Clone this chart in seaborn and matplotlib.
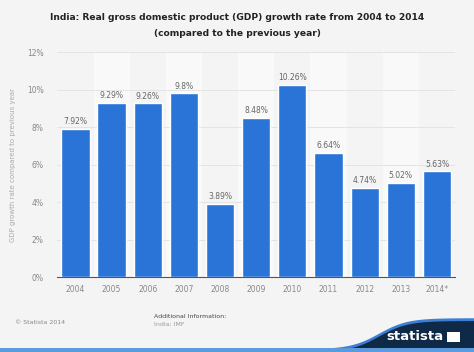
import numpy as np
import pandas as pd
import matplotlib.pyplot as plt
import seaborn as sns

years = ["2004", "2005", "2006", "2007", "2008", "2009", "2010", "2011", "2012", "2013", "2014*"]
growth = [7.92, 9.29, 9.26, 9.8, 3.89, 8.48, 10.26, 6.64, 4.74, 5.02, 5.63]
labels = ["7.92%", "9.29%", "9.26%", "9.8%", "3.89%", "8.48%", "10.26%", "6.64%", "4.74%", "5.02%", "5.63%"]
y_ticks = [0, 2, 4, 6, 8, 10, 12]

df = pd.DataFrame({"year": years, "growth": growth})

bg = "#f4f4f4"
sns.set_style("white")
plt.rcParams['font.family'] = ['DejaVu Sans']

fig = plt.figure(figsize=(4.74, 3.52), dpi=100, facecolor=bg)
ax = fig.add_axes([0.121, 0.213, 0.839, 0.639])
ax.set_facecolor(bg)

# alternating column bands
for i in range(len(years)):
    if i % 2 == 1:
        ax.axvspan(i - 0.5, i + 0.5, color="#f9f9f9", zorder=0, lw=0)

sns.barplot(data=df, x="year", y="growth", color="#2a74d8", saturation=1,
            width=0.78, ax=ax, zorder=3)

for i, (v, t) in enumerate(zip(growth, labels)):
    ax.text(i, v + 0.15, t, ha="center", va="bottom", fontsize=5.5, color="#666666", zorder=4)

ax.set_ylim(0, 12)
ax.set_xlim(-0.5, len(years) - 0.5)
ax.set_yticks(y_ticks)
ax.set_yticklabels([f"{t}%" for t in y_ticks], fontsize=5.5, color="#888888")
ax.tick_params(axis="x", labelsize=5.5, labelcolor="#888888", length=0, pad=6)
ax.tick_params(axis="y", length=0, pad=10)
ax.yaxis.grid(True, color="#e4e4e4", lw=0.7, zorder=1)
ax.set_axisbelow(True)
for s in ["top", "right", "left"]:
    ax.spines[s].set_visible(False)
ax.spines["bottom"].set_color("#555555")
ax.spines["bottom"].set_linewidth(0.8)
ax.set_xlabel("")
ax.set_ylabel("GDP growth rate compared to previous year", fontsize=5, color="#aaaaaa", labelpad=8)

fig.text(0.5, 0.949, "India: Real gross domestic product (GDP) growth rate from 2004 to 2014",
         ha="center", va="center", fontsize=6.6, fontweight="bold", color="#222222")
fig.text(0.5, 0.906, "(compared to the previous year)",
         ha="center", va="center", fontsize=6.6, fontweight="bold", color="#222222")

fig.text(0.032, 0.085, "© Statista 2014", fontsize=4.5, color="#888888", va="center")
fig.text(0.325, 0.102, "Additional Information:", fontsize=4.5, color="#444444", va="center")
fig.text(0.325, 0.080, "India; IMF", fontsize=4.5, color="#999999", va="center")

# statista swoosh
xs = np.linspace(0.55, 1.0, 80)
s = 1 / (1 + np.exp(-(xs - 0.80) / 0.03))
ys = 0.0 + 0.088 * s
edge = np.column_stack([xs, ys])
navy = np.vstack([edge, [[1.0, 0.0], [0.55, 0.0]]])
blue = np.vstack([edge + [0, 0.008], edge[::-1] - [0, 0.004]])
fig.patches.append(plt.Polygon(blue, closed=True, transform=fig.transFigure, color="#3d7fd6", lw=0, zorder=0))
fig.patches.append(plt.Polygon(navy, closed=True, transform=fig.transFigure, color="#0f2a47", lw=0, zorder=1))
fig.patches.append(plt.Rectangle((0, 0), 1, 0.011, transform=fig.transFigure, color="#5a9be0", lw=0, zorder=2))
fig.text(0.935, 0.043, "statista", fontsize=9.5, fontweight="bold", color="white", ha="right", va="center")
fig.patches.append(plt.Rectangle((0.942, 0.028), 0.028, 0.03, transform=fig.transFigure, color="white", lw=0, zorder=3))

fig.savefig("out.png", dpi=100, facecolor=bg)
